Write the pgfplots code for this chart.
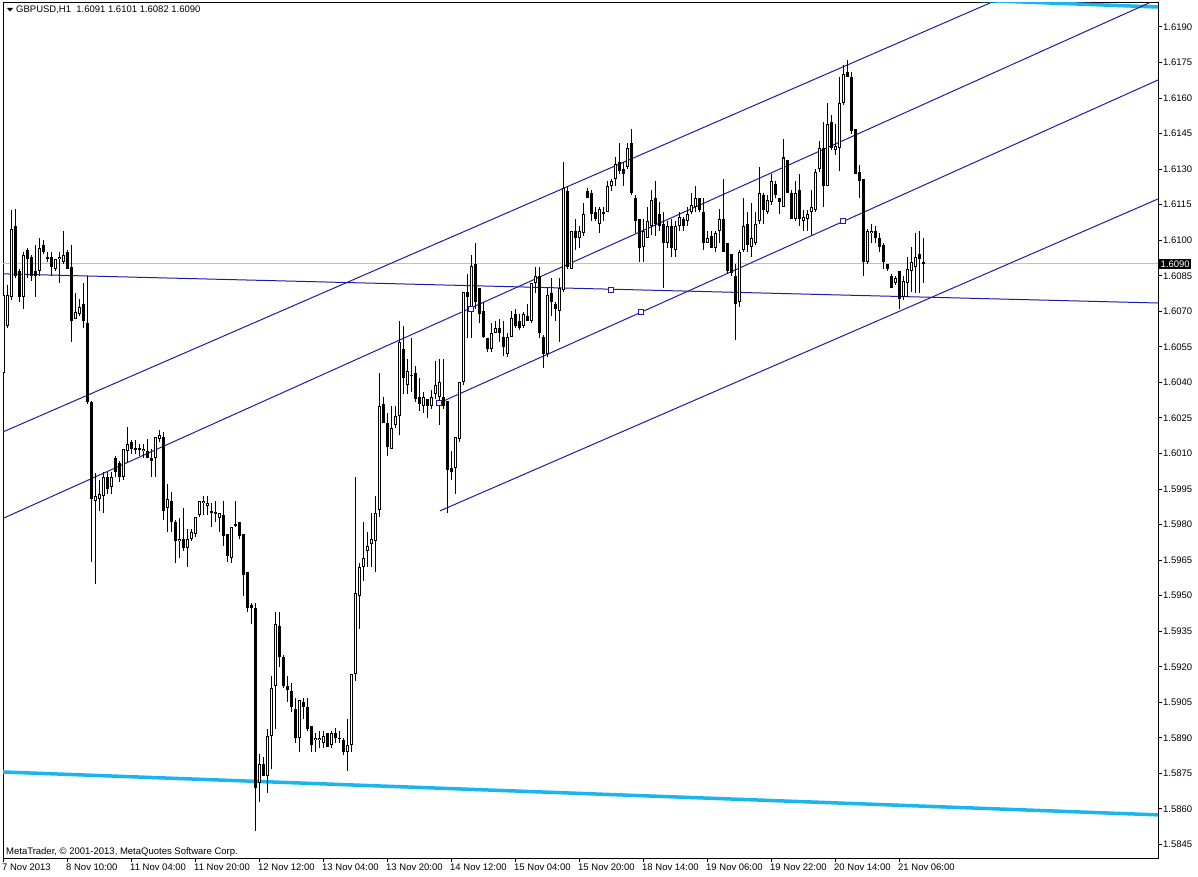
\documentclass[border=0pt]{standalone}
\usepackage{fontspec}
\setmainfont{Liberation Sans}
\usepackage{pgfplots}
\pgfplotsset{compat=1.18}
\usepackage{pgfplotstable}

\definecolor{objblue}{RGB}{28,28,168}
\definecolor{chancyan}{RGB}{24,182,236}
\definecolor{bidgray}{RGB}{192,192,192}
\newcommand\mtfont{\fontsize{9.5}{11}\selectfont}

% GBPUSD H1 bars: index, open, high, low, close
\pgfplotstableread{
i o h l c
0 1.6044 1.6085 1.6040 1.6077
1 1.6064 1.6081 1.6063 1.6077
2 1.6076 1.6113 1.6075 1.6105
3 1.6106 1.6113 1.6084 1.6085
4 1.6087 1.6088 1.6074 1.6076
5 1.6076 1.6095 1.6071 1.6094
6 1.6096 1.6097 1.6084 1.6092
7 1.6093 1.6094 1.6083 1.6085
8 1.6087 1.6098 1.6076 1.6085
9 1.6087 1.6101 1.6085 1.6097
10 1.6098 1.6100 1.6094 1.6095
11 1.6093 1.6095 1.6091 1.6092
12 1.6093 1.6095 1.6085 1.6089
13 1.6088 1.6092 1.6087 1.6092
14 1.6092 1.6095 1.6082 1.6093
15 1.6091 1.6104 1.6090 1.6094
16 1.6095 1.6096 1.6088 1.6088
17 1.6089 1.6098 1.6057 1.6066
18 1.6067 1.6078 1.6067 1.6070
19 1.6069 1.6075 1.6068 1.6072
20 1.6073 1.6082 1.6063 1.6066
21 1.6065 1.6085 1.6031 1.6032
22 1.6032 1.6032 1.5964 1.5991
23 1.5990 1.6002 1.5955 1.5992
24 1.5991 1.5999 1.5986 1.5993
25 1.5992 1.6002 1.5985 1.6000
26 1.6000 1.6002 1.5993 1.5995
27 1.5996 1.6002 1.5993 1.6000
28 1.6008 1.6009 1.6000 1.6002
29 1.6006 1.6007 1.5998 1.6000
30 1.6000 1.6012 1.5999 1.6012
31 1.6011 1.6021 1.6006 1.6014
32 1.6015 1.6016 1.6010 1.6012
33 1.6012 1.6016 1.6010 1.6012
34 1.6012 1.6014 1.6009 1.6012
35 1.6011 1.6014 1.6008 1.6012
36 1.6011 1.6016 1.6008 1.6008
37 1.6008 1.6012 1.6000 1.6007
38 1.6008 1.6017 1.6000 1.6017
39 1.6016 1.6020 1.6015 1.6018
40 1.6017 1.6019 1.5982 1.5986
41 1.5987 1.5997 1.5977 1.5991
42 1.5990 1.5994 1.5977 1.5981
43 1.5981 1.5982 1.5964 1.5973
44 1.5973 1.5983 1.5966 1.5974
45 1.5974 1.5987 1.5969 1.5970
46 1.5970 1.5978 1.5962 1.5974
47 1.5974 1.5978 1.5973 1.5977
48 1.5976 1.5983 1.5975 1.5983
49 1.5984 1.5990 1.5983 1.5990
50 1.5989 1.5992 1.5984 1.5990
51 1.5988 1.5992 1.5984 1.5989
52 1.5986 1.5989 1.5979 1.5985
53 1.5985 1.5990 1.5981 1.5985
54 1.5983 1.5985 1.5977 1.5985
55 1.5984 1.5990 1.5971 1.5975
56 1.5976 1.5976 1.5964 1.5967
57 1.5966 1.5979 1.5964 1.5979
58 1.5980 1.5990 1.5979 1.5980
59 1.5981 1.5981 1.5974 1.5975
60 1.5976 1.5976 1.5950 1.5959
61 1.5960 1.5960 1.5943 1.5945
62 1.5946 1.5947 1.5938 1.5945
63 1.5945 1.5947 1.5851 1.5869
64 1.5871 1.5883 1.5863 1.5879
65 1.5879 1.5882 1.5874 1.5874
66 1.5874 1.5894 1.5867 1.5891
67 1.5891 1.5916 1.5877 1.5911
68 1.5912 1.5943 1.5894 1.5938
69 1.5937 1.5943 1.5920 1.5924
70 1.5924 1.5925 1.5911 1.5912
71 1.5912 1.5916 1.5905 1.5910
72 1.5910 1.5913 1.5901 1.5903
73 1.5902 1.5907 1.5888 1.5890
74 1.5890 1.5906 1.5884 1.5906
75 1.5905 1.5907 1.5898 1.5903
76 1.5903 1.5907 1.5893 1.5894
77 1.5895 1.5895 1.5884 1.5887
78 1.5889 1.5892 1.5884 1.5890
79 1.5889 1.5893 1.5886 1.5890
80 1.5888 1.5893 1.5886 1.5891
81 1.5892 1.5892 1.5886 1.5886
82 1.5887 1.5893 1.5886 1.5892
83 1.5892 1.5894 1.5888 1.5890
84 1.5890 1.5893 1.5888 1.5890
85 1.5889 1.5890 1.5883 1.5884
86 1.5884 1.5898 1.5876 1.5887
87 1.5887 1.5917 1.5884 1.5917
88 1.5917 1.6000 1.5914 1.5951
89 1.5950 1.5964 1.5936 1.5962
90 1.5962 1.5981 1.5956 1.5966
91 1.5969 1.5977 1.5962 1.5971
92 1.5972 1.5985 1.5962 1.5974
93 1.5973 1.5992 1.5960 1.5985
94 1.5986 1.6044 1.5983 1.6030
95 1.6031 1.6034 1.6023 1.6023
96 1.6023 1.6027 1.6009 1.6013
97 1.6012 1.6030 1.6012 1.6021
98 1.6022 1.6030 1.6021 1.6026
99 1.6026 1.6066 1.6018 1.6057
100 1.6054 1.6064 1.6035 1.6042
101 1.6039 1.6050 1.6035 1.6045
102 1.6043 1.6059 1.6036 1.6043
103 1.6044 1.6047 1.6032 1.6033
104 1.6034 1.6042 1.6028 1.6031
105 1.6030 1.6036 1.6027 1.6034
106 1.6033 1.6033 1.6025 1.6030
107 1.6030 1.6037 1.6029 1.6034
108 1.6035 1.6049 1.6033 1.6039
109 1.6034 1.6050 1.6022 1.6040
110 1.6034 1.6050 1.6029 1.6030
111 1.6032 1.6032 1.5985 1.6003
112 1.6004 1.6011 1.5999 1.6002
113 1.6004 1.6017 1.5993 1.6017
114 1.6016 1.6040 1.6015 1.6040
115 1.6040 1.6078 1.6039 1.6078
116 1.6078 1.6086 1.6059 1.6076
117 1.6072 1.6094 1.6059 1.6089
118 1.6090 1.6099 1.6071 1.6074
119 1.6080 1.6080 1.6065 1.6069
120 1.6070 1.6074 1.6059 1.6059
121 1.6059 1.6059 1.6053 1.6054
122 1.6054 1.6065 1.6053 1.6061
123 1.6061 1.6066 1.6061 1.6063
124 1.6063 1.6067 1.6057 1.6061
125 1.6059 1.6066 1.6051 1.6055
126 1.6052 1.6061 1.6051 1.6059
127 1.6059 1.6070 1.6059 1.6067
128 1.6069 1.6071 1.6063 1.6064
129 1.6066 1.6069 1.6062 1.6063
130 1.6064 1.6070 1.6063 1.6069
131 1.6068 1.6073 1.6066 1.6066
132 1.6066 1.6082 1.6065 1.6082
133 1.6082 1.6089 1.6078 1.6085
134 1.6085 1.6089 1.6059 1.6061
135 1.6059 1.6060 1.6046 1.6052
136 1.6052 1.6080 1.6051 1.6077
137 1.6078 1.6084 1.6068 1.6074
138 1.6073 1.6074 1.6066 1.6071
139 1.6070 1.6084 1.6057 1.6080
140 1.6079 1.6133 1.6078 1.6122
141 1.6121 1.6123 1.6088 1.6089
142 1.6088 1.6104 1.6088 1.6104
143 1.6104 1.6109 1.6096 1.6101
144 1.6101 1.6106 1.6097 1.6104
145 1.6103 1.6116 1.6102 1.6111
146 1.6121 1.6122 1.6118 1.6118
147 1.6120 1.6121 1.6108 1.6111
148 1.6112 1.6114 1.6108 1.6109
149 1.6107 1.6114 1.6103 1.6113
150 1.6112 1.6114 1.6108 1.6111
151 1.6112 1.6125 1.6112 1.6123
152 1.6123 1.6126 1.6121 1.6125
153 1.6126 1.6135 1.6123 1.6132
154 1.6133 1.6141 1.6128 1.6129
155 1.6130 1.6133 1.6123 1.6128
156 1.6131 1.6141 1.6130 1.6139
157 1.6141 1.6147 1.6119 1.6120
158 1.6118 1.6119 1.6103 1.6108
159 1.6109 1.6109 1.6091 1.6097
160 1.6097 1.6109 1.6091 1.6104
161 1.6101 1.6114 1.6101 1.6108
162 1.6106 1.6121 1.6102 1.6117
163 1.6118 1.6125 1.6102 1.6107
164 1.6111 1.6116 1.6104 1.6106
165 1.6107 1.6112 1.6080 1.6099
166 1.6099 1.6108 1.6097 1.6106
167 1.6106 1.6109 1.6093 1.6097
168 1.6096 1.6108 1.6093 1.6106
169 1.6106 1.6112 1.6104 1.6110
170 1.6109 1.6110 1.6104 1.6106
171 1.6108 1.6114 1.6106 1.6111
172 1.6112 1.6120 1.6111 1.6115
173 1.6114 1.6123 1.6112 1.6118
174 1.6118 1.6118 1.6112 1.6113
175 1.6112 1.6118 1.6096 1.6099
176 1.6099 1.6104 1.6099 1.6101
177 1.6102 1.6104 1.6097 1.6097
178 1.6097 1.6104 1.6095 1.6103
179 1.6104 1.6113 1.6099 1.6109
180 1.6109 1.6126 1.6095 1.6095
181 1.6099 1.6099 1.6086 1.6087
182 1.6094 1.6094 1.6085 1.6086
183 1.6085 1.6090 1.6058 1.6073
184 1.6074 1.6096 1.6072 1.6095
185 1.6096 1.6118 1.6095 1.6106
186 1.6107 1.6112 1.6095 1.6098
187 1.6097 1.6116 1.6093 1.6101
188 1.6099 1.6112 1.6098 1.6107
189 1.6108 1.6131 1.6107 1.6120
190 1.6119 1.6120 1.6107 1.6113
191 1.6112 1.6119 1.6111 1.6117
192 1.6116 1.6128 1.6115 1.6125
193 1.6124 1.6125 1.6118 1.6119
194 1.6118 1.6118 1.6111 1.6116
195 1.6114 1.6143 1.6114 1.6135
196 1.6134 1.6134 1.6120 1.6120
197 1.6120 1.6121 1.6109 1.6109
198 1.6109 1.6125 1.6108 1.6120
199 1.6121 1.6128 1.6106 1.6109
200 1.6108 1.6113 1.6104 1.6110
201 1.6109 1.6113 1.6104 1.6111
202 1.6112 1.6121 1.6102 1.6114
203 1.6113 1.6130 1.6112 1.6129
204 1.6130 1.6142 1.6129 1.6139
205 1.6139 1.6150 1.6114 1.6123
206 1.6123 1.6158 1.6123 1.6149
207 1.6150 1.6153 1.6138 1.6139
208 1.6138 1.6149 1.6136 1.6140
209 1.6139 1.6169 1.6129 1.6158
210 1.6158 1.6174 1.6157 1.6170
211 1.6171 1.6176 1.6169 1.6169
212 1.6169 1.6171 1.6145 1.6146
213 1.6147 1.6147 1.6128 1.6128
214 1.6129 1.6132 1.6118 1.6125
215 1.6126 1.6126 1.6085 1.6091
216 1.6091 1.6105 1.6090 1.6104
217 1.6103 1.6107 1.6099 1.6104
218 1.6104 1.6106 1.6099 1.6101
219 1.6101 1.6103 1.6095 1.6097
220 1.6098 1.6099 1.6088 1.6091
221 1.6090 1.6090 1.6087 1.6088
222 1.6085 1.6086 1.6080 1.6080
223 1.6082 1.6085 1.6081 1.6084
224 1.6087 1.6087 1.6071 1.6075
225 1.6076 1.6085 1.6075 1.6083
226 1.6082 1.6093 1.6076 1.6088
227 1.6087 1.6097 1.6078 1.6091
228 1.6089 1.6103 1.6078 1.6093
229 1.6094 1.6104 1.6078 1.6092
230 1.6091 1.6101 1.6082 1.6090
}\bars

\begin{document}
\begin{tikzpicture}[x=1pt,y=1pt]
\path[use as bounding box] (0,0) rectangle (1198,876);
\begin{axis}[
  at={(3pt,18pt)}, anchor=south west,
  scale only axis, width=1155pt, height=855pt,
  xmin=0, xmax=288.75, ymin=1.58393, ymax=1.62001,
  axis line style={line width=1pt},
  tick align=outside, major tick length=4pt,
  xtick pos=bottom, ytick pos=right, yticklabel pos=right,
  tick style={black, line width=1pt},
  xtick={0,16,...,224},
  xticklabels={7 Nov 2013, 8 Nov 10:00, 11 Nov 04:00, 11 Nov 20:00, 12 Nov 12:00,
    13 Nov 04:00, 13 Nov 20:00, 14 Nov 12:00, 15 Nov 04:00, 15 Nov 20:00,
    18 Nov 14:00, 19 Nov 06:00, 19 Nov 22:00, 20 Nov 14:00, 21 Nov 06:00},
  xticklabel style={font=\mtfont, anchor=north west, inner sep=0pt, xshift=-1pt, yshift=-2pt},
  ytick={1.5845,1.5860,1.5875,1.5890,1.5905,1.5920,1.5935,1.5950,1.5965,1.5980,
    1.5995,1.6010,1.6025,1.6040,1.6055,1.6070,1.6085,1.6100,1.6115,1.6130,
    1.6145,1.6160,1.6175,1.6190},
  yticklabel style={font=\mtfont, anchor=west, inner sep=0pt, xshift=1pt,
    /pgf/number format/.cd, fixed, fixed zerofill, precision=4, assume math mode=true},
  scaled y ticks=false,
  candle/.style={draw=none, mark=none, forget plot,
    error bars/.cd, y dir=both, y explicit, error mark=none},
]
% bid line, channels and trend lines
\addplot[bidgray, line width=1pt] coordinates {(0,1.6090) (288.75,1.6090)};
\addplot[chancyan, line width=3.5pt] coordinates {(0,1.58756) (288.75,1.58575)};
\addplot[chancyan, line width=3.5pt] coordinates {(0,1.62165) (288.75,1.61984)};
\addplot[objblue, line width=1pt] coordinates {(0,1.60191) (246.75,1.62001)};
\addplot[objblue, line width=1pt] coordinates {(0,1.59826) (286.75,1.62003)};
\addplot[objblue, line width=1pt] coordinates {(109,1.60313) (288.75,1.61676)};
\addplot[objblue, line width=1pt] coordinates {(109.25,1.59858) (288.75,1.61174)};
\addplot[objblue, line width=1pt] coordinates {(0,1.60858) (288.75,1.60735)};
\addplot[only marks, mark=square*, mark size=2.5pt,
  mark options={draw=objblue, fill=white, line width=0.9pt}]
  coordinates {(109,1.60313) (117,1.60710) (152,1.60790) (159.5,1.60697) (210,1.61081)};

% wicks
\addplot[candle, error bar style={draw=black, solid, line width=1pt}]
  table[x=i, y expr={(\thisrow{h}+\thisrow{l})/2},
    y error expr={(\thisrow{h}-\thisrow{l})/2}] {\bars};
% bodies
\addplot[candle, error bar style={draw=black, solid, line width=3pt}]
  table[x=i, y expr={(\thisrow{o}+\thisrow{c})/2},
    y error expr={max(abs(\thisrow{c}-\thisrow{o})/2,0.0000211)}] {\bars};
% hollow inside of rising bars
\addplot[candle, error bar style={draw=white, solid, line width=1pt}]
  table[x=i, y expr={(\thisrow{o}+\thisrow{c})/2},
    y error expr={((\thisrow{c}-\thisrow{o})>0) ? max((\thisrow{c}-\thisrow{o})/2-0.0000422,0) : 0}] {\bars};
\end{axis}

\fill (7,868) -- (13,868) -- (10,864.5) -- cycle;
\node[anchor=base west, inner sep=0pt, font=\mtfont] at (16,863) {GBPUSD,H1\ \ 1.6091 1.6101 1.6082 1.6090};
\node[anchor=base west, inner sep=0pt, font=\mtfont] at (6,22) {MetaTrader, © 2001-2013, MetaQuotes Software Corp.};
\node[anchor=west, fill=black, text=white, inner sep=1.5pt, font=\mtfont] at (1159,612) {1.6090};
\end{tikzpicture}
\end{document}
